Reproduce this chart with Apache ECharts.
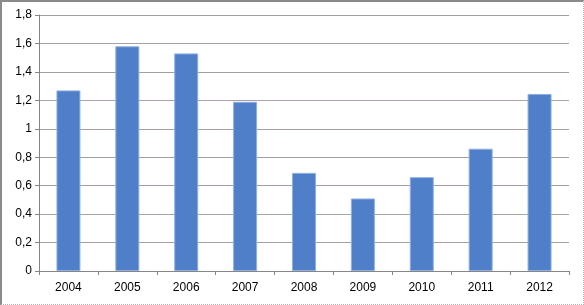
<!DOCTYPE html>
<html><head><meta charset="utf-8">
<script src="https://cdn.jsdelivr.net/npm/echarts@6/dist/echarts.min.js"></script>
<style>
html,body{margin:0;padding:0;background:#fff;}
#c{position:absolute;left:0;top:0;width:584px;height:305px;box-sizing:border-box;border-left:2px solid #8a8a8a;border-top:2px solid #8a8a8a;border-right:1px dotted #b0b0b0;border-bottom:1px dotted #b0b0b0;}
#chart{position:absolute;left:-2px;top:-2px;width:584px;height:305px;}
</style></head>
<body><div id="c"><div id="chart"></div></div>
<script>
var categories = ['2004','2005','2006','2007','2008','2009','2010','2011','2012'];
var values = [1.27, 1.58, 1.53, 1.19, 0.69, 0.51, 0.66, 0.86, 1.245];
var yMin = 0, yMax = 1.8, yStep = 0.2;

var chart = echarts.init(document.getElementById('chart'), null, {renderer:'canvas'});
chart.setOption({
  animation:false,
  backgroundColor:'transparent',
  grid:{left:39, right:15, top:15, bottom:34, containLabel:false},
  xAxis:{
    type:'category', data:categories, boundaryGap:true,
    axisLine:{lineStyle:{color:'#868686', width:1}},
    axisTick:{show:true, length:4, alignWithLabel:false, lineStyle:{color:'#868686'}},
    axisLabel:{color:'#000', fontFamily:'Liberation Sans, Arial, sans-serif', fontSize:12, margin:11},
    splitLine:{show:false}
  },
  yAxis:{
    type:'value', min:yMin, max:yMax, interval:yStep,
    axisLine:{show:true, lineStyle:{color:'#868686', width:1}},
    axisTick:{show:true, length:4, lineStyle:{color:'#868686'}},
    axisLabel:{color:'#000', fontFamily:'Liberation Sans, Arial, sans-serif', fontSize:12, margin:7,
      formatter:function(v){ return (Math.round(v*10)/10).toString().replace('.', ','); }},
    splitLine:{show:true, lineStyle:{color:['#a0a0a0','#a8a0a0','#a0a8a0','#a89aa8','#a0a0a0','#a8a0a0','#b0a0b0','#a0a0a0','#a8a0a0','#a0a0a0'], width:1}}
  },
  series:[{
    type:'bar', data:values, barWidth:24,
    itemStyle:{color:'#4f7fc8', borderColor:'#8fb0e0', borderWidth:1}
  }]
});
</script>
</body></html>
